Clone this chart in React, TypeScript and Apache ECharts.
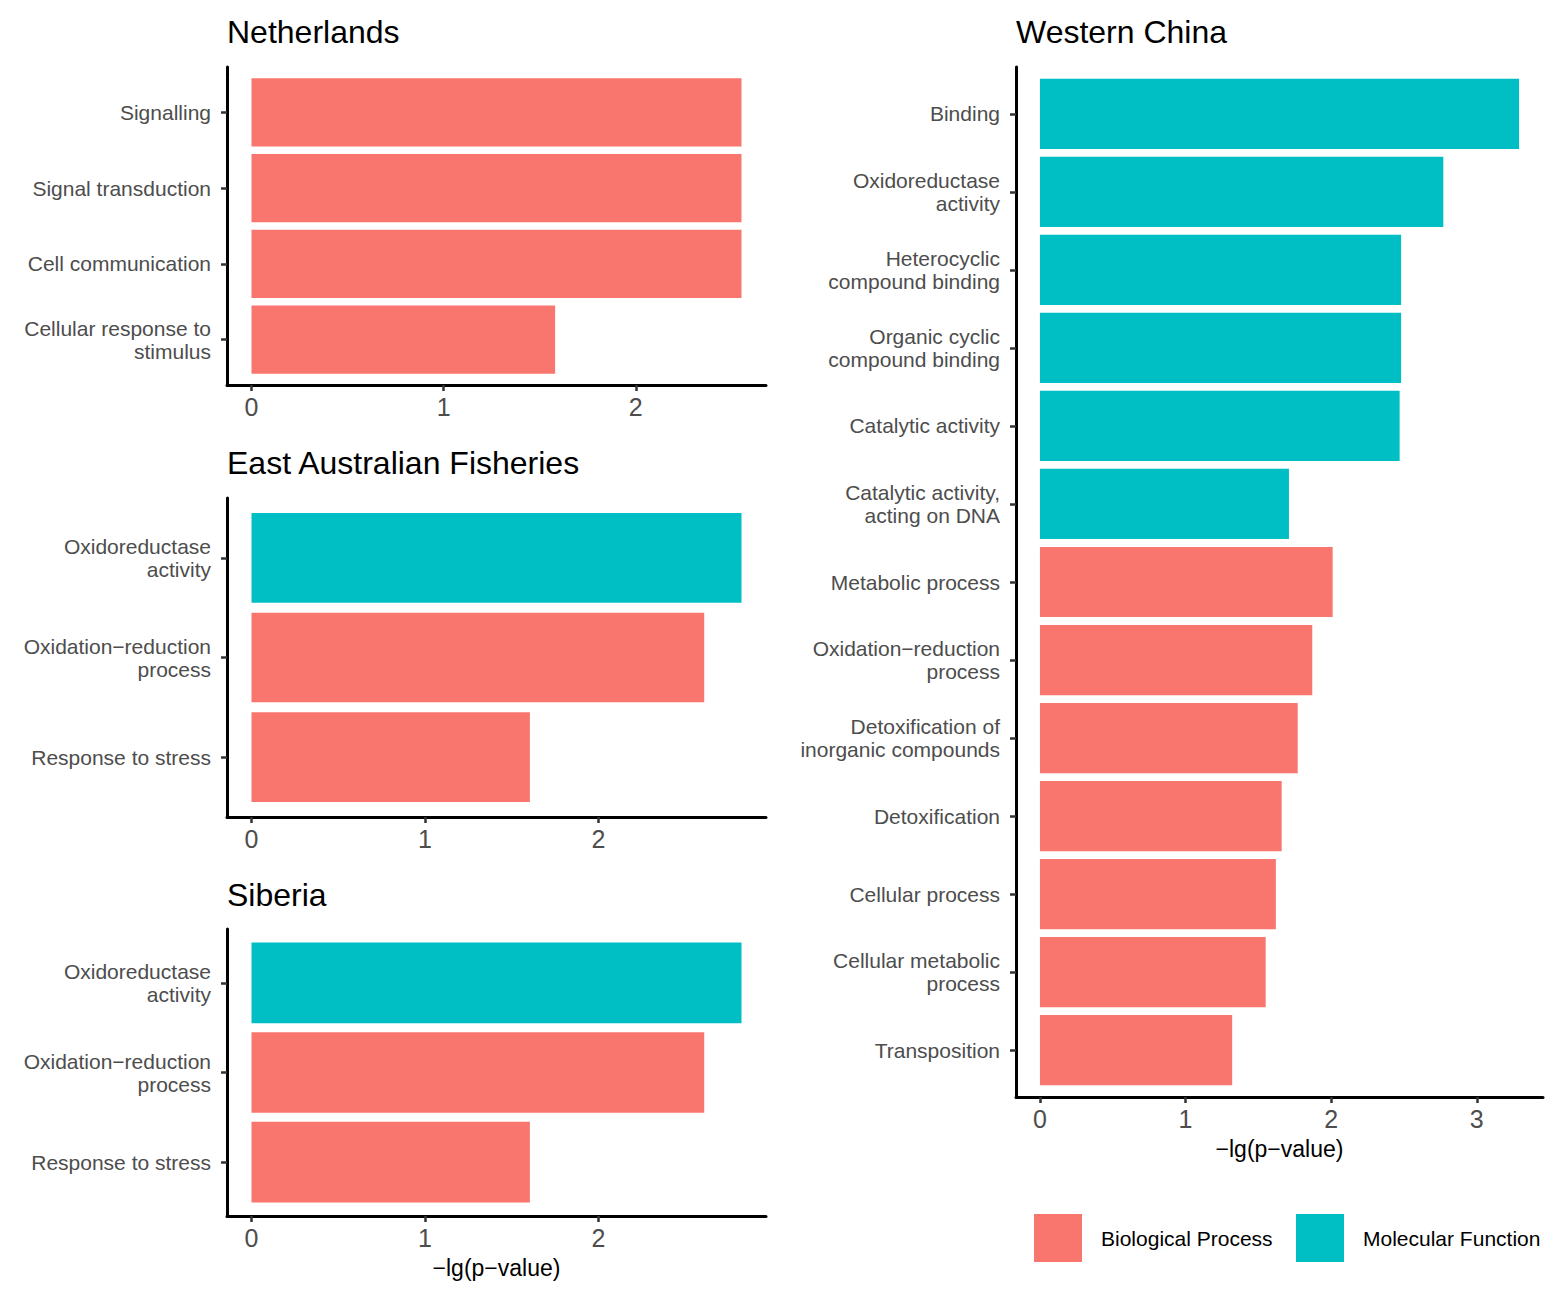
import React, { useEffect, useRef } from "react";
import * as echarts from "echarts";

const BP = "Biological Process";
const MF = "Molecular Function";

const nlCategories = ["Signalling", "Signal transduction", "Cell communication", "Cellular response to\nstimulus"];
const nlValues = [2.55, 2.55, 2.55, 1.58];
const nlTypes = [BP, BP, BP, BP];

const eaCategories = ["Oxidoreductase\nactivity", "Oxidation−reduction\nprocess", "Response to stress"];
const eaValues = [2.825, 2.61, 1.605];
const eaTypes = [MF, BP, BP];

const siCategories = ["Oxidoreductase\nactivity", "Oxidation−reduction\nprocess", "Response to stress"];
const siValues = [2.825, 2.61, 1.605];
const siTypes = [MF, BP, BP];

const wcCategories = [
  "Binding",
  "Oxidoreductase\nactivity",
  "Heterocyclic\ncompound binding",
  "Organic cyclic\ncompound binding",
  "Catalytic activity",
  "Catalytic activity,\nacting on DNA",
  "Metabolic process",
  "Oxidation−reduction\nprocess",
  "Detoxification of\ninorganic compounds",
  "Detoxification",
  "Cellular process",
  "Cellular metabolic\nprocess",
  "Transposition",
];
const wcValues = [3.29, 2.77, 2.48, 2.48, 2.47, 1.71, 2.01, 1.87, 1.77, 1.66, 1.62, 1.55, 1.32];
const wcTypes = [MF, MF, MF, MF, MF, MF, BP, BP, BP, BP, BP, BP, BP];

const smallTicks = [0, 1, 2];
const wcTicks = [0, 1, 2, 3];
const axisTitle = "−lg(p−value)";

const COLORS: Record<string, string> = { [BP]: "#F8766D", [MF]: "#00BFC4" };
const FONT = '"Liberation Sans", Arial, Helvetica, sans-serif';

const panels = [
  { title: "Netherlands", cats: nlCategories, values: nlValues, types: nlTypes, ticks: smallTicks, xName: "", left: 227, right: 766, top: 67, bottom: 385, titleTop: 16 },
  { title: "East Australian Fisheries", cats: eaCategories, values: eaValues, types: eaTypes, ticks: smallTicks, xName: "", left: 227, right: 766, top: 498, bottom: 817, titleTop: 447 },
  { title: "Siberia", cats: siCategories, values: siValues, types: siTypes, ticks: smallTicks, xName: axisTitle, left: 227, right: 766, top: 929, bottom: 1216, titleTop: 879 },
  { title: "Western China", cats: wcCategories, values: wcValues, types: wcTypes, ticks: wcTicks, xName: axisTitle, left: 1016, right: 1543, top: 67, bottom: 1097, titleTop: 16 },
];

function buildOption() {
  const grids: any[] = [];
  const xAxes: any[] = [];
  const yAxes: any[] = [];
  const series: any[] = [];
  const titles: any[] = [];
  const axisLineStyle = { color: "#000", width: 3 };
  const tickStyle = { color: "#333", width: 2.5 };

  panels.forEach((p, i) => {
    const n = p.cats.length;
    const h = p.bottom - p.top;
    const unit = h / (n + 0.2);
    const w = p.right - p.left;
    const vmax = Math.max(...p.values);
    const xmin = -0.05 * vmax;
    const xmax = 1.05 * vmax;
    const outer = grids.length;

    grids.push({ left: p.left, top: p.top, width: w, height: h, containLabel: false, outerBoundsMode: "none" });
    grids.push({ left: p.left, top: p.top + 0.1 * unit, width: w, height: n * unit, containLabel: false, outerBoundsMode: "none" });

    xAxes.push({
      type: "value",
      gridIndex: outer,
      min: xmin,
      max: xmax,
      axisLine: { show: true, onZero: false, lineStyle: axisLineStyle },
      axisTick: { show: true, customValues: p.ticks, length: 6, lineStyle: tickStyle },
      axisLabel: { show: true, customValues: p.ticks, fontSize: 25, color: "#4D4D4D", margin: 9, fontFamily: FONT },
      splitLine: { show: false },
      name: p.xName,
      nameLocation: "middle",
      nameGap: 40,
      nameTextStyle: { fontSize: 23, color: "#000", fontFamily: FONT },
    });
    yAxes.push({
      type: "value",
      gridIndex: outer,
      min: 0,
      max: 1,
      axisLine: { show: true, onZero: false, lineStyle: axisLineStyle },
      axisTick: { show: false },
      axisLabel: { show: false },
      splitLine: { show: false },
    });
    xAxes.push({ type: "value", gridIndex: outer + 1, min: xmin, max: xmax, show: false, splitLine: { show: false } });
    yAxes.push({
      type: "category",
      gridIndex: outer + 1,
      data: p.cats,
      inverse: true,
      axisLine: { show: true, onZero: false, lineStyle: axisLineStyle },
      axisTick: { show: true, alignWithLabel: true, length: 6, lineStyle: tickStyle },
      axisLabel: { interval: 0, fontSize: 21, lineHeight: 23, color: "#4D4D4D", margin: 16, fontFamily: FONT, align: "right" },
      splitLine: { show: false },
    });

    [BP, MF].forEach((t) => {
      series.push({
        type: "bar",
        name: t,
        xAxisIndex: outer + 1,
        yAxisIndex: outer + 1,
        stack: "panel" + i,
        barCategoryGap: "10%",
        itemStyle: { color: COLORS[t] },
        data: p.values.map((v, k) => (p.types[k] === t ? v : "-")),
      });
    });

    titles.push({
      text: p.title,
      left: p.left,
      top: p.titleTop,
      padding: 0,
      textStyle: { fontSize: 32, fontWeight: "normal", color: "#000", fontFamily: FONT },
    });
  });

  const legendBase = {
    top: 1214,
    padding: 0,
    itemWidth: 48,
    itemHeight: 48,
    icon: "rect",
    selectedMode: false,
    textStyle: { fontSize: 21, color: "#000", fontFamily: FONT, padding: [0, 0, 0, 14] },
  };

  return {
    animation: false,
    backgroundColor: "#fff",
    textStyle: { fontFamily: FONT },
    title: titles,
    grid: grids,
    xAxis: xAxes,
    yAxis: yAxes,
    series,
    legend: [
      { ...legendBase, left: 1034, data: [BP] },
      { ...legendBase, left: 1296, data: [MF] },
    ],
  };
}

export default function App() {
  const ref = useRef<HTMLDivElement>(null);
  useEffect(() => {
    document.body.style.margin = "0";
    if (!ref.current) return;
    const chart = echarts.init(ref.current, undefined, { renderer: "svg" });
    chart.setOption(buildOption() as any);
    return () => chart.dispose();
  }, []);
  return <div ref={ref} style={{ position: "absolute", left: 0, top: 0, width: 1559, height: 1302 }} />;
}
